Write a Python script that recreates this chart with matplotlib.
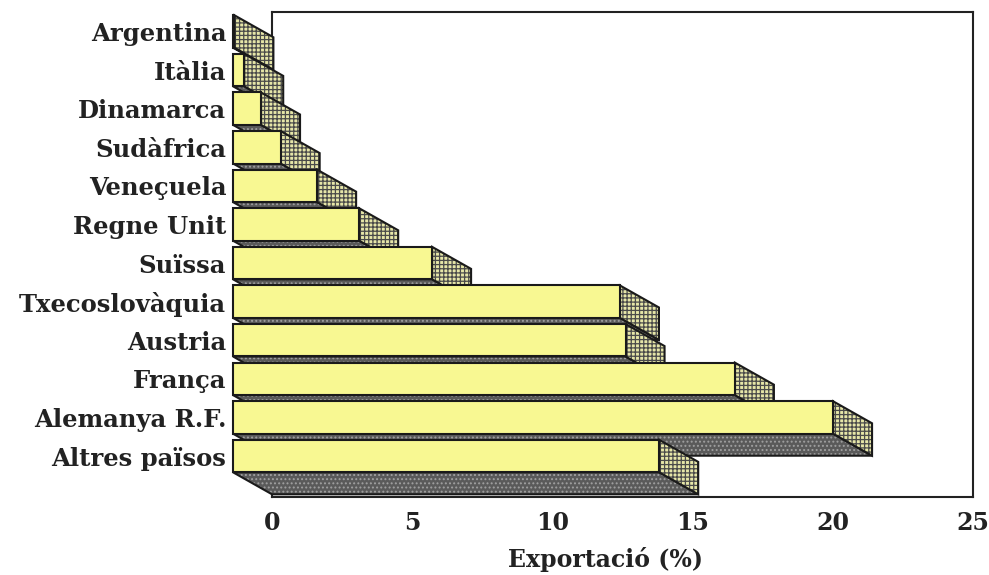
import matplotlib
matplotlib.use("Agg")
import matplotlib.pyplot as plt
from matplotlib.patches import Polygon

categories = ["Argentina", "Itàlia", "Dinamarca", "Sudàfrica", "Veneçuela",
              "Regne Unit", "Suïssa", "Txecoslovàquia", "Austria", "França",
              "Alemanya R.F.", "Altres països"]
values = [0.05, 0.4, 1.0, 1.7, 3.0, 4.5, 7.1, 13.8, 14.0, 17.9, 21.4, 15.2]
xticks = [0, 5, 10, 15, 20, 25]
xlabel = "Exportació (%)"

# 3D oblique geometry (in data units)
DX = 1.39      # depth offset along x
DY = 0.57      # depth offset along y (downwards)
H = 0.84       # bar front-face height

FRONT = "#f8f892"
SIDE = "#e6e6a8"
SIDE_HATCH = "#4a4a4a"
BOTTOM = "#5a5a5a"
BOTTOM_HATCH = "#a0a0a0"
EDGE = "#1a1a1a"

fig = plt.figure(figsize=(9.89, 5.75), dpi=100)
W, Hpx = 989, 575
ax = fig.add_axes([272 / W, (Hpx - 497) / Hpx, (973 - 272) / W, (497 - 12) / Hpx])
ax.set_xlim(0, 25)
ax.set_ylim(12.06, -0.505)

font = dict(family="DejaVu Serif", weight="bold")
plt.rcParams["hatch.linewidth"] = 0.9


def face(pts, fc, hatch, hc, z):
    ax.add_patch(Polygon(pts, closed=True, facecolor=fc, edgecolor=hc,
                         hatch=hatch, linewidth=0, zorder=z, clip_on=False))
    ax.add_patch(Polygon(pts, closed=True, facecolor="none", edgecolor=EDGE,
                         linewidth=1.5, zorder=z + 0.1, clip_on=False,
                         joinstyle="miter"))


for i, v in enumerate(values):
    x0 = -DX
    x1 = v - DX
    top = i - H / 2
    bot = i + H / 2
    z = 5 + i * 3
    # bottom face
    face([(x0, bot), (x1, bot), (x1 + DX, bot + DY), (x0 + DX, bot + DY)],
         BOTTOM, "....", BOTTOM_HATCH, z)
    # side (end) face
    face([(x1, top), (x1 + DX, top + DY), (x1 + DX, bot + DY), (x1, bot)],
         SIDE, "++++", SIDE_HATCH, z + 1)
    # front face
    if v > 0.02:
        face([(x0, top), (x1, top), (x1, bot), (x0, bot)],
             FRONT, None, FRONT, z + 2)

for s in ax.spines.values():
    s.set_linewidth(1.5)
    s.set_color("#222222")

ax.set_yticks(range(len(categories)))
ax.set_yticklabels(categories, fontsize=17.5, **font, color="#222222")
ax.tick_params(axis="y", length=0, pad=33)
ax.set_xticks(xticks)
ax.set_xticklabels([str(t) for t in xticks], fontsize=17, **font, color="#222222")
ax.tick_params(axis="x", length=0, pad=10)

ax.set_xlabel(xlabel, fontsize=17, **font, color="#222222")
ax.xaxis.set_label_coords((605 - 272) / 701, (497 - 560) / 485)
ax.xaxis.label.set_verticalalignment("center")

fig.savefig("out.png", dpi=100)
